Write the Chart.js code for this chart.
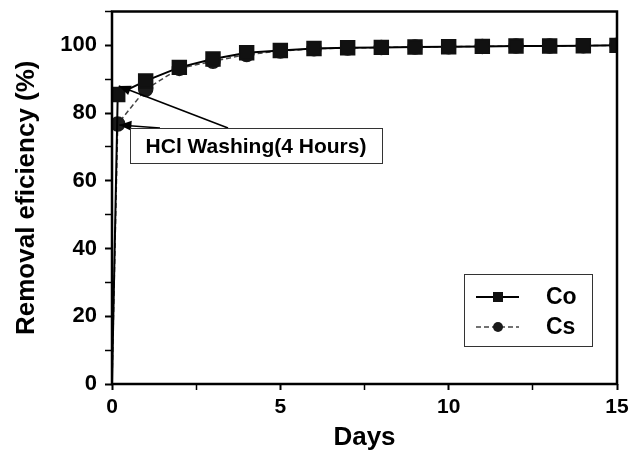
<!DOCTYPE html>
<html>
<head>
<meta charset="utf-8">
<script src="https://cdn.jsdelivr.net/npm/chart.js@4"></script>
<style>
  html, body { margin: 0; padding: 0; background: #fff; }
  #wrap { width: 640px; height: 457px; }
</style>
</head>
<body>
<div id="wrap"><canvas id="chart"></canvas></div>
<script>
// data
const days = [0, 0.17, 1, 2, 3, 4, 5, 6, 7, 8, 9, 10, 11, 12, 13, 14, 15];
const coValues = [0, 85.5, 89.5, 93.5, 96, 97.8, 98.5, 99.1, 99.3, 99.4, 99.5, 99.6, 99.7, 99.8, 99.8, 99.9, 100];
const csValues = [0, 76.8, 87, 93.2, 95.3, 97.3, 98.3, 99, 99.2, 99.4, 99.5, 99.6, 99.7, 99.8, 99.8, 99.9, 100];
const seriesNames = ["Co", "Cs"];
const annotationText = "HCl Washing(4 Hours)";

const FONT = "'Liberation Sans', Arial, sans-serif";

function toPoints(xs, ys) {
  return xs.map((x, i) => ({ x: x, y: ys[i] }));
}

// hide the marker sitting on the origin
const radii = days.map((d) => (d === 0 ? 0 : 1));

// frame, legend box and the annotation
const extras = {
  id: "extras",
  afterDatasetsDraw(chart) {
    const ctx = chart.ctx;
    const a = chart.chartArea;
    const xs = chart.scales.x;
    const ys = chart.scales.y;
    ctx.save();

    // plot frame
    ctx.strokeStyle = "#000";
    ctx.lineWidth = 2.5;
    ctx.strokeRect(a.left, a.top, a.right - a.left, a.bottom - a.top);

    // annotation arrows
    const arrows = [
      { from: [228, 128], to: [xs.getPixelForValue(0.2), ys.getPixelForValue(88)] },
      { from: [160, 128], to: [xs.getPixelForValue(0.22), ys.getPixelForValue(76.5)] },
    ];
    ctx.fillStyle = "#000";
    ctx.lineWidth = 1.6;
    arrows.forEach((ar) => {
      const [x1, y1] = ar.from;
      const [x2, y2] = ar.to;
      ctx.beginPath();
      ctx.moveTo(x1, y1);
      ctx.lineTo(x2, y2);
      ctx.stroke();
      const ang = Math.atan2(y2 - y1, x2 - x1);
      const len = 12, half = 5;
      ctx.beginPath();
      ctx.moveTo(x2, y2);
      ctx.lineTo(x2 - len * Math.cos(ang) + half * Math.sin(ang), y2 - len * Math.sin(ang) - half * Math.cos(ang));
      ctx.lineTo(x2 - len * Math.cos(ang) - half * Math.sin(ang), y2 - len * Math.sin(ang) + half * Math.cos(ang));
      ctx.closePath();
      ctx.fill();
    });

    // annotation box
    ctx.fillStyle = "#fff";
    ctx.fillRect(130, 128, 252, 35);
    ctx.strokeStyle = "#333";
    ctx.lineWidth = 1;
    ctx.strokeRect(130.5, 128.5, 252, 35);
    ctx.fillStyle = "#000";
    ctx.font = "bold 21px " + FONT;
    ctx.textAlign = "center";
    ctx.textBaseline = "middle";
    ctx.fillText(annotationText, 256, 147);

    // legend
    ctx.strokeStyle = "#333";
    ctx.lineWidth = 1;
    ctx.strokeRect(464.5, 274.5, 128, 72);
    const byName = (n) => chart.data.datasets.find((d) => d.label === n);
    const rows = [
      { y: 297, ds: byName(seriesNames[0]) },
      { y: 327, ds: byName(seriesNames[1]) },
    ];
    rows.forEach((r) => {
      ctx.strokeStyle = r.ds.borderColor;
      ctx.lineWidth = r.ds.borderWidth;
      ctx.setLineDash(r.ds.borderDash || []);
      ctx.beginPath();
      ctx.moveTo(476, r.y);
      ctx.lineTo(519, r.y);
      ctx.stroke();
      ctx.setLineDash([]);
      ctx.fillStyle = r.ds.pointBackgroundColor;
      if (r.ds.pointStyle === "rect") {
        ctx.fillRect(493, r.y - 5, 10, 10);
      } else {
        ctx.beginPath();
        ctx.arc(498, r.y, 5, 0, Math.PI * 2);
        ctx.fill();
      }
      ctx.fillStyle = "#000";
      ctx.font = "bold 23px " + FONT;
      ctx.textAlign = "left";
      ctx.fillText(r.ds.label, 546, r.y + 1);
    });

    ctx.restore();
  },
};

new Chart(document.getElementById("chart"), {
  type: "scatter",
  data: {
    datasets: [
      {
        label: seriesNames[1],
        data: toPoints(days, csValues),
        showLine: true,
        borderColor: "#444",
        borderWidth: 1.5,
        borderDash: [5, 3],
        pointStyle: "circle",
        pointRadius: radii.map((r) => r * 7),
        pointBackgroundColor: "#1a1a1a",
        pointBorderColor: "#1a1a1a",
        order: 2,
      },
      {
        label: seriesNames[0],
        data: toPoints(days, coValues),
        showLine: true,
        borderColor: "#000",
        borderWidth: 2,
        pointStyle: "rect",
        pointRadius: radii.map((r) => r * 9.5),
        pointBackgroundColor: "#111",
        pointBorderColor: "#111",
        order: 1,
      },
    ],
  },
  options: {
    responsive: true,
    maintainAspectRatio: false,
    animation: false,
    layout: { padding: { top: 10, right: 23, left: 0, bottom: 0 } },
    plugins: {
      legend: { display: false },
      tooltip: { enabled: false },
    },
    scales: {
      x: {
        type: "linear",
        min: 0,
        max: 15,
        afterFit(scale) {
          scale.height = 73;
          scale.paddingLeft = 0;
          scale.paddingRight = 0;
        },
        border: { display: false },
        grid: {
          drawOnChartArea: false,
          drawTicks: true,
          tickLength: 6,
          tickColor: "#000",
          tickWidth: (c) => (c.tick && c.tick.value % 5 === 0 ? 2 : 1.5),
        },
        ticks: {
          stepSize: 2.5,
          autoSkip: false,
          maxRotation: 0,
          padding: 5,
          color: "#000",
          font: { family: FONT, size: 21, weight: "bold" },
          callback: (v) => (v % 5 === 0 ? v : ""),
        },
        title: {
          display: true,
          text: "Days",
          color: "#000",
          font: { family: FONT, size: 26, weight: "bold" },
          padding: { top: 0, bottom: 4 },
        },
      },
      y: {
        min: 0,
        max: 110,
        afterFit(scale) {
          scale.width = 112;
          scale.paddingTop = 0;
          scale.paddingBottom = 0;
        },
        border: { display: false },
        grid: {
          drawOnChartArea: false,
          drawTicks: true,
          tickLength: 7,
          tickColor: "#000",
          tickWidth: (c) => (c.tick && c.tick.value % 20 === 0 ? 2 : 1.5),
        },
        ticks: {
          stepSize: 10,
          autoSkip: false,
          padding: 8,
          color: "#000",
          font: { family: FONT, size: 22, weight: "bold" },
          callback: (v) => (v % 20 === 0 ? v : ""),
        },
        title: {
          display: true,
          text: "Removal eficiency (%)",
          color: "#000",
          font: { family: FONT, size: 26, weight: "bold" },
          padding: { top: 11, bottom: 0 },
        },
      },
    },
  },
  plugins: [extras],
});
</script>
</body>
</html>
